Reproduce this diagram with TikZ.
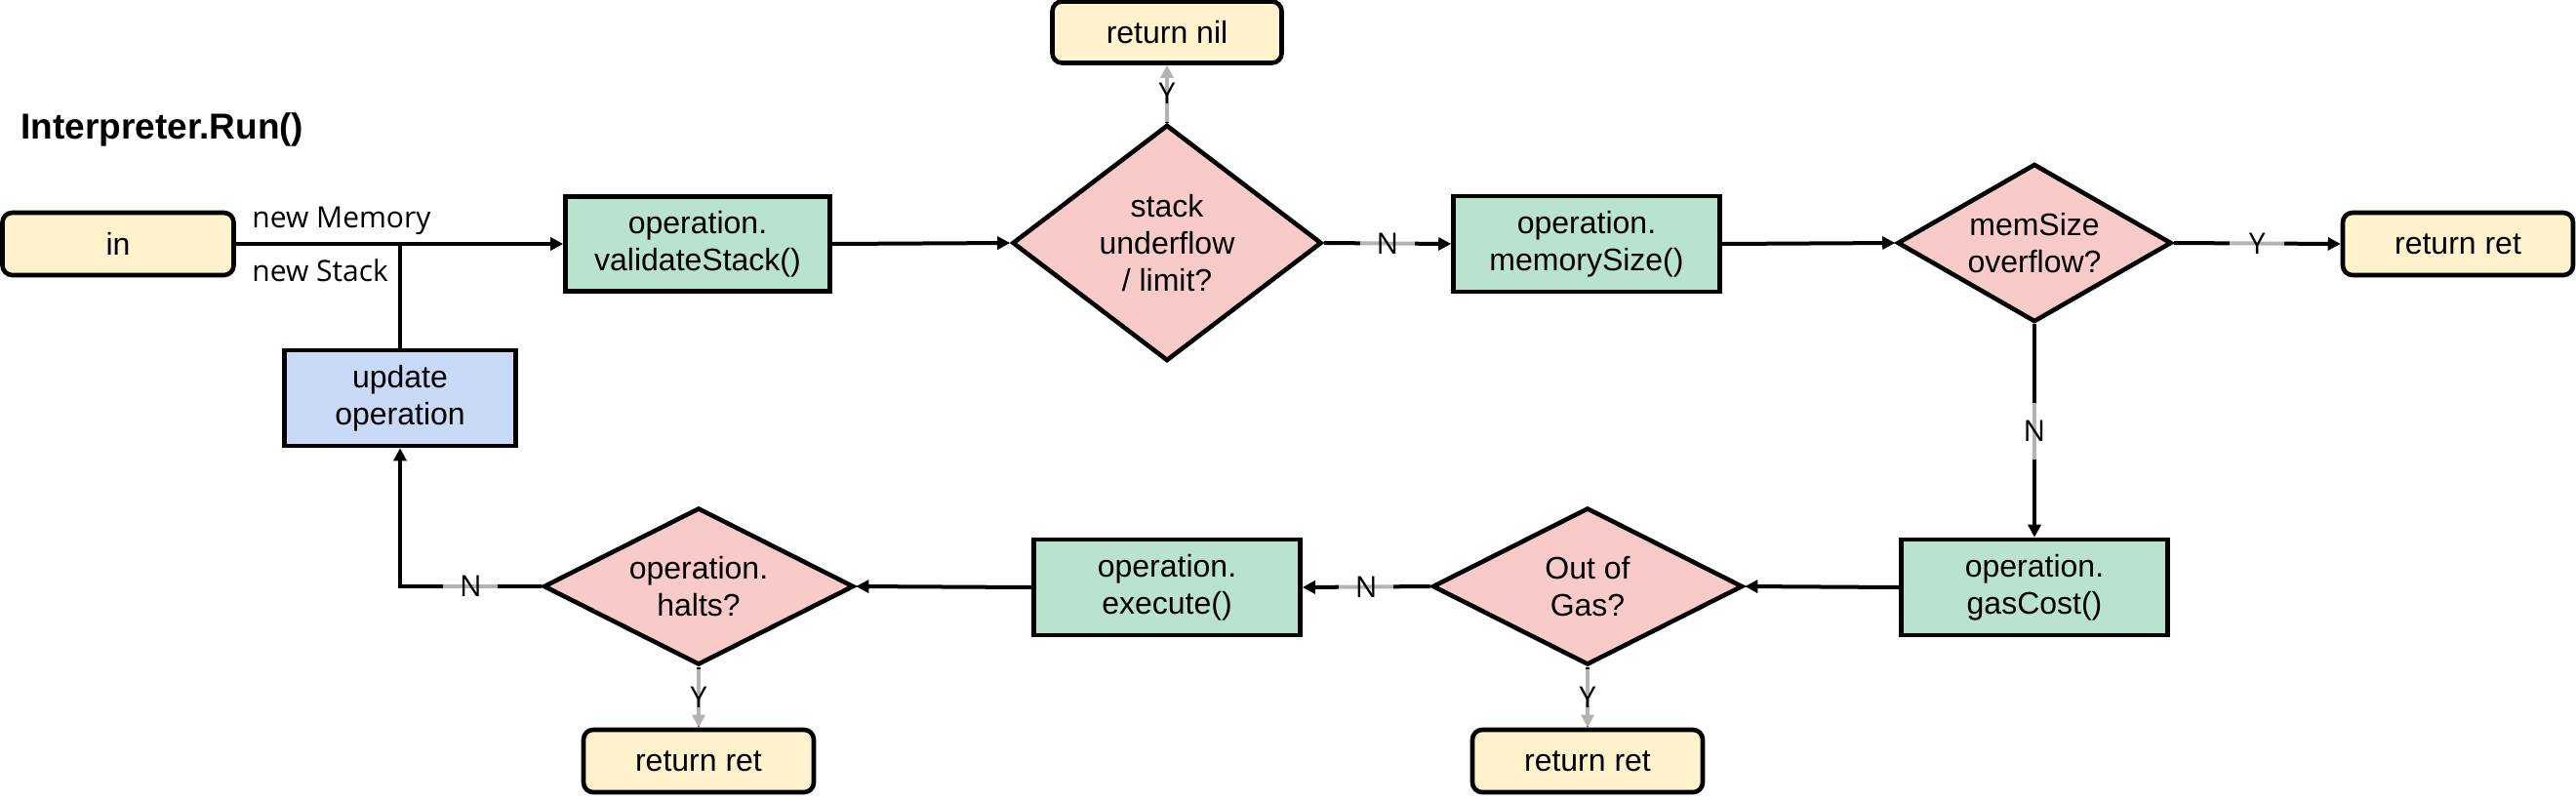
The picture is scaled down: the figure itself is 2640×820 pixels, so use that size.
\documentclass[tikz,border=0pt]{standalone}
\usepackage{fontspec}
\setmainfont{Liberation Sans}
\newfontfamily\lblfont{Open Sans}
\usetikzlibrary{shapes.geometric,arrows.meta}
\definecolor{yel}{HTML}{FFF2CC}
\definecolor{grn}{HTML}{B9E2CF}
\definecolor{pnk}{HTML}{F8CBC8}
\definecolor{blu}{HTML}{C9DAF8}
\begin{document}
\begin{tikzpicture}[x=0.5pt,y=-0.5pt,
  txt/.style={font=\fontsize{16}{19.2}\selectfont, align=center, text=black},
  box/.style={txt, draw, line width=2.3pt, inner sep=0pt, fill=grn,
    minimum width=136.5pt, minimum height=49pt},
  term/.style={txt, draw, line width=2.3pt, inner sep=0pt, fill=yel,
    rounded corners=5pt, minimum width=118pt, minimum height=32pt},
  diam/.style={txt, shape=diamond, draw, line width=2.3pt, fill=pnk, inner sep=0pt},
  conn/.style={line width=2pt, -{Triangle[length=6.5pt,width=6.5pt]}},
  plain/.style={line width=2pt},
  lbl/.style={font=\lblfont\fontsize{15}{17}\selectfont, fill=white, fill opacity=0.7,
    text opacity=1, inner sep=0pt, minimum width=28pt, minimum height=29pt},
  free/.style={font=\lblfont\fontsize{15}{17}\selectfont, inner sep=0pt, anchor=base west}
]
\useasboundingbox (0,0) rectangle (2640,820);

% title
\node[anchor=base west, inner sep=0pt, font=\bfseries\fontsize{18.5}{22}\selectfont] (title) at (21,142) {Interpreter.Run()};

% nodes
\node[term, minimum width=118.5pt] (in) at (121,250) {in};
\node[box, minimum width=135.5pt, minimum height=48.5pt] (validate) at (715,250) {operation.\\validateStack()};
\node[box, fill=blu, minimum width=118.5pt] (update) at (410,408) {update\\operation};
\node[diam, minimum width=158.5pt, minimum height=121pt, aspect=1.31] (stack) at (1196,249) {stack\\underflow\\/ limit?};
\node[term, minimum width=117.5pt, minimum height=31.5pt] (retnil) at (1196,33) {return nil};
\node[box] (memsize) at (1626,250) {operation.\\memorySize()};
\node[diam, minimum width=140.5pt, minimum height=81pt, aspect=1.73] (overflow) at (2085,249) {memSize\\overflow?};
\node[term] (retR) at (2519,250) {return ret};
\node[box] (gascost) at (2085,602) {operation.\\gasCost()};
\node[diam, minimum width=159pt, minimum height=80.5pt, aspect=1.97] (oog) at (1627,601) {Out of\\Gas?};
\node[term] (retB2) at (1627,780) {return ret};
\node[box] (execute) at (1196,602) {operation.\\execute()};
\node[diam, minimum width=159pt, minimum height=80.5pt, aspect=1.97] (halts) at (716,601) {operation.\\halts?};
\node[term] (retB1) at (716,780) {return ret};

% free labels
\node[free] (nmem) at (258,233) {new Memory};
\node[free] (nstack) at (258,288) {new Stack};

% connectors
\draw[conn] (in.east) -- (validate.west);
\draw[plain] (update.north) -- (update.north |- in.east);
\draw[conn] (validate.east) -- (stack.west);
\draw[conn] (stack.north) -- node[lbl]{Y} (retnil.south);
\draw[conn] (stack.east) -- node[lbl]{N} (memsize.west);
\draw[conn] (memsize.east) -- (overflow.west);
\draw[conn] (overflow.east) -- node[lbl]{Y} (retR.west);
\draw[conn] (overflow.south) -- node[lbl]{N} (gascost.north);
\draw[conn] (gascost.west) -- (oog.east);
\draw[conn] (oog.west) -- node[lbl]{N} (execute.east);
\draw[conn] (oog.south) -- node[lbl]{Y} (retB2.north);
\draw[conn] (execute.west) -- (halts.east);
\draw[conn] (halts.south) -- node[lbl]{Y} (retB1.north);
\draw[conn] (halts.west) -| node[lbl, pos=0.25]{N} (update.south);
\end{tikzpicture}
\end{document}
